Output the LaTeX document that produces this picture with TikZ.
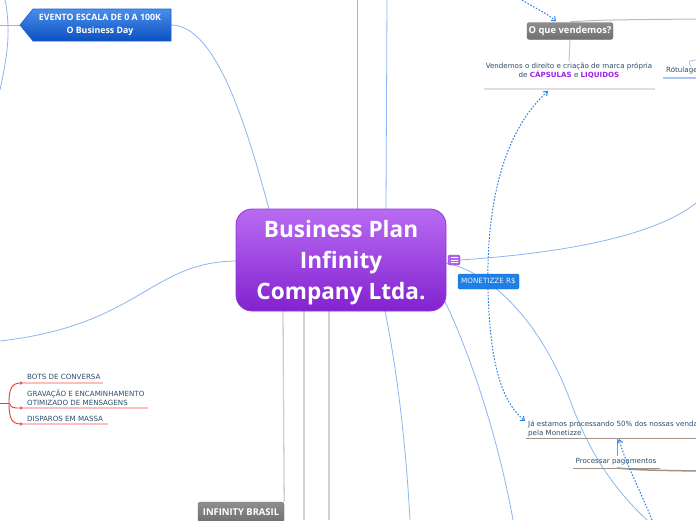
\documentclass[tikz,border=0pt]{standalone}
\usepackage{fontspec}
\setmainfont{DejaVu Sans}
\newfontfamily\osans{Open Sans}
\usetikzlibrary{arrows.meta,calc}
\definecolor{bline}{HTML}{8DB6F0}
\definecolor{gline}{HTML}{D0D0D0}
\definecolor{ctop}{HTML}{B96BF2}
\definecolor{cbot}{HTML}{8222D0}
\definecolor{cbord}{HTML}{9238D8}
\definecolor{evtop}{HTML}{4A8EEA}
\definecolor{evbot}{HTML}{0B50C0}
\definecolor{evbord}{HTML}{1C62D4}
\definecolor{mon}{HTML}{1E7FE6}
\definecolor{gtop}{HTML}{8E8E8E}
\definecolor{gbot}{HTML}{707070}
\definecolor{txt}{HTML}{2E4D6B}
\definecolor{purp}{HTML}{A021EE}
\definecolor{dot}{HTML}{2A80E2}
\definecolor{brn}{HTML}{A09286}
\definecolor{redc}{HTML}{E23C3C}
\definecolor{pinku}{HTML}{FFBDBD}
\definecolor{ulgray}{HTML}{DEDEDE}
\definecolor{lblue}{HTML}{A8C6F2}
\tikzset{tipb/.tip={Straight Barb[length=3.5pt,width=5.5pt]},
  tipr/.tip={Stealth[length=3pt,width=3.5pt]}}
\begin{document}
\begin{tikzpicture}[x=1pt,y=-1pt,
  blueline/.style={bline,line width=0.8pt},
  grayline/.style={gline,line width=1.3pt},
  dotarrow/.style={dot,line width=1pt,dash pattern=on 1.6pt off 1.6pt},
  graybox/.style={rounded corners=2.5pt,top color=gtop,bottom color=gbot,draw=gbot,
    text=white,font=\osans\bfseries\fontsize{9.4}{11}\selectfont,inner sep=0pt},
  small/.style={text=txt,font=\fontsize{7.1}{9}\selectfont,inner sep=0pt},
  redl/.style={redc,line width=0.9pt},
  pinkl/.style={pinku,line width=1.3pt},
  brnl/.style={brn,line width=1pt}]
\useasboundingbox (0,0) rectangle (696,520);
\clip (0,0) rectangle (696,520);
\fill[white] (0,0) rectangle (696,520);

% ---- named coordinates
\coordinate (tl0) at (5,0);
\coordinate (tlJ) at (8,25);
\coordinate (tl1) at (0,90);
\coordinate (tlL) at (0,25);
\coordinate (evL) at (20,25);
\coordinate (evR) at (171,25);
\coordinate (cT1) at (269,209);
\coordinate (cT2) at (357,209);
\coordinate (cT3) at (386,209);
\coordinate (up2) at (357,0);
\coordinate (up3) at (387,0);
\coordinate (cL) at (236,261);
\coordinate (lft) at (0,341);
\coordinate (cR) at (446,263);
\coordinate (cBR) at (443,298);
\coordinate (cB1) at (283,311);
\coordinate (cB2) at (304,311);
\coordinate (cB3) at (329,311);
\coordinate (cB4) at (385,311);
\coordinate (dn2) at (304,520);
\coordinate (dn3) at (329,520);
\coordinate (dn4) at (410,520);
\coordinate (dn5) at (513,520);
\coordinate (dn6) at (647,520);
\coordinate (rt1) at (696,203);

% ---- light blue connectors
\draw[blueline] (tl0) .. controls (7,10) .. (tlJ) .. controls (9,50) and (3,75) .. (tl1);
\draw[blueline] (tlL) -- (evL);
\draw[blueline] (evR) .. controls (215,25) and (245,120) .. (cT1);
\draw[blueline] (cT2) -- (up2);
\draw[blueline] (cT3) -- (up3);
\draw[blueline] (cL) .. controls (150,262) and (140,325) .. (lft);
\draw[blueline] (cR) .. controls (490,272) and (540,320) .. (570,400) .. controls (590,455) and (615,490) .. (dn6);
\draw[blueline] (cBR) .. controls (460,330) and (495,420) .. (dn5);
\draw[blueline] (cB4) .. controls (395,360) and (405,430) .. (dn4);

% ---- gray connectors below the centre
\node[graybox,minimum width=86pt,minimum height=20pt] (ib) at (241,512) {INFINITY BRASIL};
\draw[grayline] (cB1) -- (ib.north east);
\draw[grayline] (cB2) -- (dn2);
\draw[grayline] (cB3) -- (dn3);

% ---- central node
\node[draw=cbord,line width=0.8pt,rounded corners=16pt,top color=ctop,bottom color=cbot,
  minimum width=210pt,minimum height=102pt,inner sep=0pt] (c) at (341,260) {};
\node[inner sep=0pt,text=white,align=center,
  font=\osans\bfseries\fontsize{22.6}{31}\selectfont] (ct) at (341,263)
  {Business Plan\\Infinity\\Company Ltda.};
\node[draw=cbord,fill=ctop!90!cbot,rounded corners=1.5pt,minimum width=12pt,minimum height=10pt,inner sep=0pt] (ic) at (454,260) {};
\foreach \yy in {-2.3,0,2.3}
  \draw[white,line width=0.7pt] ($(ic.center)+(-3.5,\yy)$) -- ($(ic.center)+(3.5,\yy)$);
\coordinate (rt0) at (ic.east);
\draw[blueline] (rt0) .. controls (580,252) and (660,232) .. (rt1);

% ---- EVENTO node
\path[top color=evtop,bottom color=evbot,draw=evbord,line width=0.7pt]
  (33,9) -- (171,9) -- (171,41) -- (33,41) -- (evL) -- cycle;
\node[text=white,align=center,inner sep=0pt,font=\osans\bfseries\fontsize{8.8}{12.5}\selectfont] (ev) at (100,25)
  {EVENTO ESCALA DE 0 A 100K\\O Business Day};

% ---- O que vendemos
\coordinate (dq0) at (522,0);
\coordinate (gr1) at (696,19);
\node[graybox,minimum width=86pt,minimum height=17pt] (oq) at (570,31) {O que vendemos?};
\draw[gray!55,line width=1pt] ($(oq.north)+(0,-0.5)$) .. controls (600,20) .. (gr1);
\draw[dotarrow,-{tipb}] (dq0) .. controls (535,8) and (548,14) .. ($(oq.north)+(-14,-1)$);
\node[small,align=center] (vd) at (569,70.5)
  {Vendemos o direito e criação de marca própria\\de {\bfseries\color{purp}CÁPSULAS} e {\bfseries\color{purp}LIQUIDOS}};
\draw[gray!45,line width=1pt] (oq.south) -- ($(vd.north)+(0,-1)$);
\coordinate (ul0) at (484,89);
\coordinate (ul1) at (655,89);
\draw[ulgray,line width=1.8pt] (ul0) -- (ul1);

% ---- Rotulagem
\node[small,anchor=west] (rot) at (666,70) {Rótulagem};
\coordinate (rotu0) at (663,78);
\coordinate (rotu1) at (696,78);
\coordinate (rotc) at (696,60);
\draw[lblue,line width=1.8pt] (rotu0) -- (rotu1);
\draw[lblue,line width=0.8pt] ($(rot.north)+(6,1)$) .. controls (688,61) .. (rotc);

% ---- MONETIZZE
\coordinate (da0) at (548,91);
\coordinate (da1) at (525,421);
\draw[dotarrow,{tipb}-{tipb}] (da0) .. controls (505,130) and (486,200) .. (488,290)
   .. controls (490,360) and (500,400) .. (da1);
\node[fill=mon,draw=mon!85!black,rounded corners=1.5pt,minimum width=61pt,minimum height=15pt,inner sep=0pt,
  text=white!90!mon,font=\fontsize{7.2}{8}\selectfont] (mz) at (488.5,281.5) {MONETIZZE R\$};

% ---- Ja estamos
\node[small,anchor=west,align=left] (ja) at (528,428.5)
  {Já estamos processando 50\% dos nossas vendas\\pela Monetizze};
\coordinate (ju0) at (526,438);
\coordinate (ju1) at (696,438);
\draw[brnl] (ju0) -- (ju1);
\coordinate (jv) at (617,438);
\node[small] (pp) at (616,462) {Processar pagamentos};
\draw[brnl] (jv) -- ($(pp.north)+(1,-2)$);
\coordinate (pu0) at (573,468);
\coordinate (pu1) at (660,468);
\coordinate (pm) at (617,468);
\coordinate (pr) at (696,471);
\draw[brnl] (pu0) -- (pu1);
\draw[brn,line width=1.5pt] (pm) .. controls (640,470) .. (pr);
\coordinate (db0) at (652,520);
\draw[dotarrow,-{tipb}] (db0) .. controls (640,490) and (625,462) .. (619,439);

% ---- red group
\coordinate (rL) at (0,403);
\coordinate (rJ) at (9,403);
\node[small,anchor=west] (b1) at (27,376.5) {BOTS DE CONVERSA};
\node[small,anchor=west,align=left] (b2) at (27,397.5) {GRAVAÇÃO E ENCAMINHAMENTO\\OTIMIZADO DE MENSAGENS};
\node[small,anchor=west] (b3) at (27,418.5) {DISPAROS EM MASSA};
\coordinate (r1) at (23,383);
\coordinate (r2) at (23,408);
\coordinate (r3) at (23,424);
\draw[pinkl] (r1) -- (103,383);
\draw[pinkl] (r2) -- (148,408);
\draw[pinkl] (r3) -- (108,424);
\draw[redl] (rL) -- (rJ);
\draw[redl,-{tipr}] (rJ) .. controls (9,388) and (12,383) .. (r1);
\draw[redl,-{tipr}] (rJ) .. controls (12,408) .. (r2);
\draw[redl,-{tipr}] (rJ) .. controls (9,419) and (12,424) .. (r3);
\end{tikzpicture}
\end{document}
